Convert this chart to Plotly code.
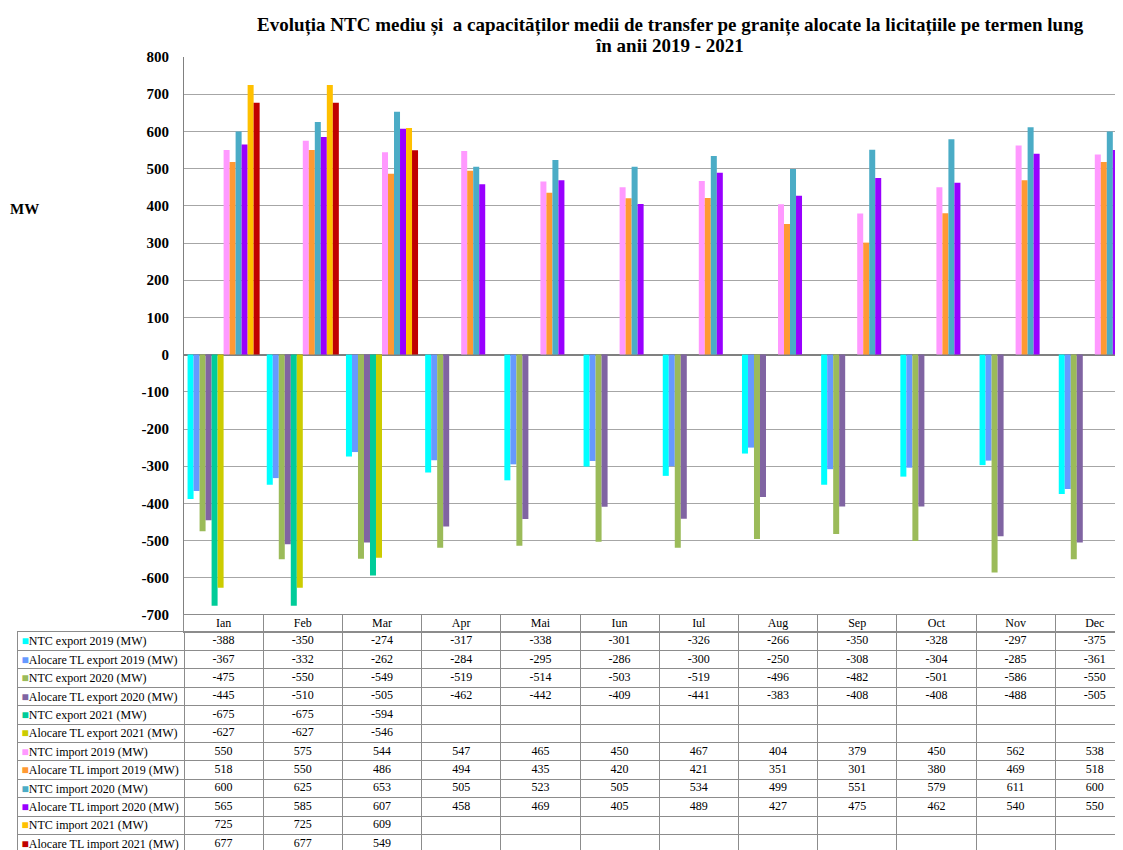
import plotly.graph_objects as go

months = ["Ian", "Feb", "Mar", "Apr", "Mai", "Iun", "Iul", "Aug", "Sep", "Oct", "Nov", "Dec"]

series_names = [
    "NTC export 2019 (MW)",
    "Alocare TL export 2019 (MW)",
    "NTC export 2020 (MW)",
    "Alocare TL export 2020 (MW)",
    "NTC export 2021 (MW)",
    "Alocare TL export 2021 (MW)",
    "NTC import 2019 (MW)",
    "Alocare TL import 2019 (MW)",
    "NTC import 2020 (MW)",
    "Alocare TL import 2020 (MW)",
    "NTC import 2021 (MW)",
    "Alocare TL import 2021 (MW)",
]

ntc_export_2019 = [-388, -350, -274, -317, -338, -301, -326, -266, -350, -328, -297, -375]
aloc_export_2019 = [-367, -332, -262, -284, -295, -286, -300, -250, -308, -304, -285, -361]
ntc_export_2020 = [-475, -550, -549, -519, -514, -503, -519, -496, -482, -501, -586, -550]
aloc_export_2020 = [-445, -510, -505, -462, -442, -409, -441, -383, -408, -408, -488, -505]
ntc_export_2021 = [-675, -675, -594, None, None, None, None, None, None, None, None, None]
aloc_export_2021 = [-627, -627, -546, None, None, None, None, None, None, None, None, None]
ntc_import_2019 = [550, 575, 544, 547, 465, 450, 467, 404, 379, 450, 562, 538]
aloc_import_2019 = [518, 550, 486, 494, 435, 420, 421, 351, 301, 380, 469, 518]
ntc_import_2020 = [600, 625, 653, 505, 523, 505, 534, 499, 551, 579, 611, 600]
aloc_import_2020 = [565, 585, 607, 458, 469, 405, 489, 427, 475, 462, 540, 550]
ntc_import_2021 = [725, 725, 609, None, None, None, None, None, None, None, None, None]
aloc_import_2021 = [677, 677, 549, None, None, None, None, None, None, None, None, None]

series_values = [
    ntc_export_2019, aloc_export_2019, ntc_export_2020, aloc_export_2020,
    ntc_export_2021, aloc_export_2021, ntc_import_2019, aloc_import_2019,
    ntc_import_2020, aloc_import_2020, ntc_import_2021, aloc_import_2021,
]

colors = ["#00FFFF", "#6699FF", "#9BBB59", "#8064A2", "#00CC99", "#CCCC00",
          "#FF99FF", "#FF9933", "#4BACC6", "#9900FF", "#FFC000", "#C00000"]

y_ticks = list(range(-700, 801, 100))

FONT = "Liberation Serif, Times New Roman, serif"
GRID = "#a6a6a6"
TLINE = "#8c8c8c"

# page has an 8px body margin -> figure drawn 8px right/down
W, H = 1115, 842
ML, MR, MT, MB = 10, 0, 49, 0
PW, PH = W - ML - MR, H - MT - MB


def fx(ref_x):  # reference pixel x -> plot-area fraction
    return (ref_x - 8 - ML) / PW


def fy(ref_y):  # reference pixel y -> plot-area fraction
    return (H + 8 - ref_y) / PH


COL_W = 79.2                      # width of one month column (px)
LABEL_UNITS = (184 - 18) / COL_W  # label column width in month units
X_RIGHT = -0.5 + (1123 - 184) / COL_W   # chart is cut at the window edge
ROW_H = 18.4

fig = go.Figure()

# --- bars ---
for name, vals, col in zip(series_names, series_values, colors):
    fig.add_trace(go.Bar(x=months, y=vals, name=name,
                         marker=dict(color=col, line=dict(width=0)),
                         showlegend=False, xaxis="x", yaxis="y"))

# --- table header (months) ---
fig.add_trace(go.Scatter(x=months, y=[0] * len(months), text=months, mode="text",
                         textfont=dict(family=FONT, size=12, color="black"),
                         showlegend=False, hoverinfo="skip", xaxis="x3", yaxis="y3"))

# --- table body ---
month_idx = list(range(len(months)))
for r, vals in enumerate(series_values, start=1):
    fig.add_trace(go.Scatter(x=month_idx, y=[r] * len(months),
                             text=["" if v is None else str(v) for v in vals],
                             mode="text", cliponaxis=False,
                             textfont=dict(family=FONT, size=12, color="black"),
                             showlegend=False, hoverinfo="skip", xaxis="x2", yaxis="y2"))

row_labels = [f"<span style='color:{c}'>■</span>{n}" for n, c in zip(series_names, colors)]

fig.update_layout(
    width=W, height=H,
    margin=dict(l=ML, r=MR, t=MT, b=MB, autoexpand=False),
    paper_bgcolor="white", plot_bgcolor="white",
    barmode="group", bargap=0.09, bargroupgap=0,
    font=dict(family=FONT, color="black"),
    # bar chart
    xaxis=dict(domain=[fx(184), 1], range=[-0.5, X_RIGHT], showticklabels=False, showgrid=False,
               zeroline=False, showline=False, ticks="", automargin=False, anchor="y"),
    yaxis=dict(domain=[fy(615), 1], range=[-700, 800], anchor="x",
               tickvals=y_ticks, ticktext=[f"<b>{t}</b>" for t in y_ticks],
               tickfont=dict(family=FONT, size=15, color="black"),
               showgrid=True, gridcolor=GRID, gridwidth=1,
               zeroline=True, zerolinecolor="#808080", zerolinewidth=2,
               showline=True, linecolor="#808080", linewidth=1,
               ticks="", ticklabelstandoff=11, automargin=False),
    # table header
    xaxis3=dict(domain=[fx(184), 1], anchor="y3", type="category",
                categoryorder="array", categoryarray=months, range=[-0.5, X_RIGHT],
                tickson="boundaries", showgrid=True, gridcolor=TLINE, gridwidth=1,
                showticklabels=False, ticks="", zeroline=False,
                showline=True, mirror=True, linecolor=TLINE, linewidth=1, automargin=False),
    yaxis3=dict(domain=[fy(632), fy(615)], anchor="x3", range=[-0.5, 0.5],
                showgrid=False, showticklabels=False, ticks="", zeroline=False,
                showline=True, linecolor=TLINE, linewidth=1, automargin=False),
    # table body
    xaxis2=dict(domain=[0, 1], anchor="y2", range=[-0.5 - LABEL_UNITS, X_RIGHT],
                tickvals=[i - 0.5 for i in range(len(months) + 1)],
                showgrid=True, gridcolor=TLINE, gridwidth=1,
                showticklabels=False, ticks="", zeroline=False, side="top",
                showline=True, linecolor=TLINE, linewidth=1, automargin=False),
    yaxis2=dict(domain=[0, fy(632)], anchor="x2",
                range=[0.5 + (850 - 632) / ROW_H, 0.5],
                tickvals=list(range(1, len(series_names) + 1)), ticktext=row_labels,
                ticklabelposition="inside", ticklabelstandoff=3, ticklabeloverflow="allow",
                tickfont=dict(family=FONT, size=12, color="black"),
                showgrid=False, ticks="", zeroline=False,
                minor=dict(tick0=0.5, dtick=1, showgrid=True, gridcolor=TLINE, gridwidth=1, ticks=""),
                showline=True, linecolor=TLINE, linewidth=1, automargin=False),
    annotations=[
        dict(text="<b>Evoluția NTC mediu și  a capacităților medii de transfer pe granițe alocate la licitațiile pe termen lung</b>",
             xref="paper", yref="paper", x=fx(670), y=fy(25),
             xanchor="center", yanchor="middle", showarrow=False,
             font=dict(family=FONT, size=19, color="black")),
        dict(text="<b>în anii 2019 - 2021</b>",
             xref="paper", yref="paper", x=fx(669), y=fy(45),
             xanchor="center", yanchor="middle", showarrow=False,
             font=dict(family=FONT, size=19, color="black")),
        dict(text="<b>MW</b>", xref="paper", yref="paper",
             x=fx(8), y=fy(209), xanchor="left", yanchor="middle",
             showarrow=False, font=dict(family=FONT, size=15, color="black")),
    ],
)

fig.write_html("out.html")
